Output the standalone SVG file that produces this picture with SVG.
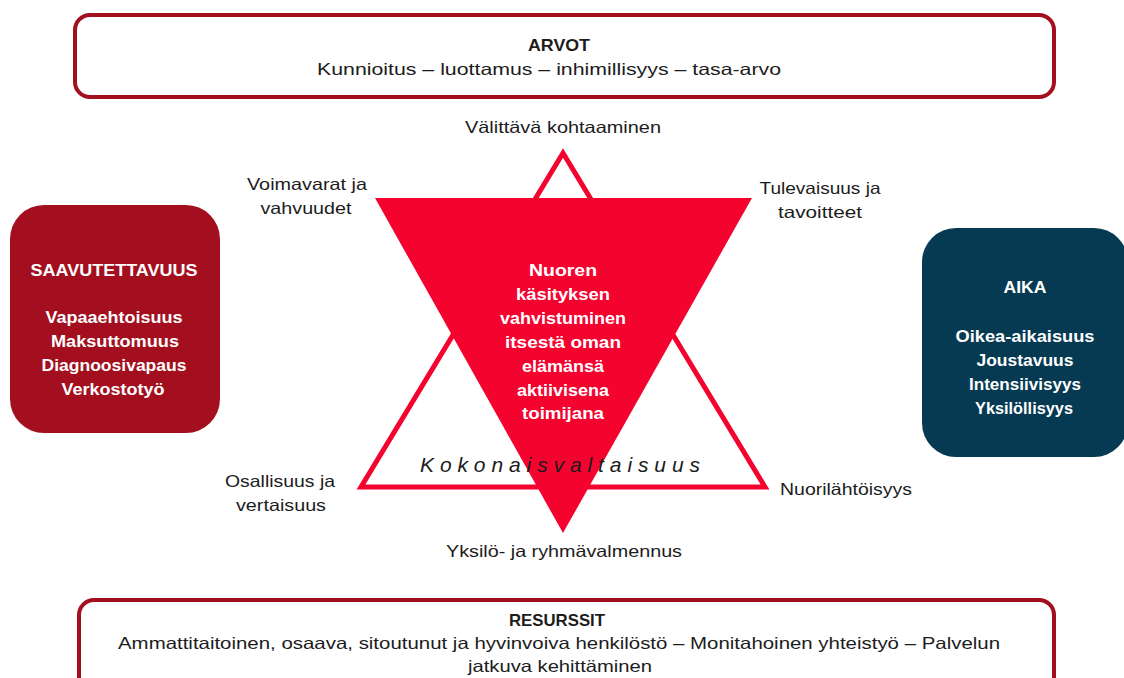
<svg xmlns="http://www.w3.org/2000/svg" width="1124" height="678" viewBox="0 0 1124 678">
<style>
.lbl{font-family:"Liberation Sans",Arial,sans-serif;font-size:16.5px;fill:#1c1c1c;text-anchor:middle}
.hd{font-family:"Liberation Sans",Arial,sans-serif;font-size:16.5px;font-weight:bold;fill:#1c1c1c;text-anchor:middle}
.wb{font-family:"Liberation Sans",Arial,sans-serif;font-size:17px;font-weight:bold;fill:#ffffff;text-anchor:middle}
.frame{fill:#ffffff;stroke:#a30f1e;stroke-width:4}
.big{font-size:21px;font-style:italic}
</style>
<rect width="1124" height="678" fill="#ffffff"/>

<g id="arvot">
<rect class="frame" x="75" y="15" width="979" height="82" rx="15"/>
<text class="hd" x="559" y="51" textLength="62" lengthAdjust="spacingAndGlyphs">ARVOT</text>
<text class="lbl" x="549" y="75" textLength="464" lengthAdjust="spacingAndGlyphs">Kunnioitus – luottamus – inhimillisyys – tasa-arvo</text>
</g>

<g id="resurssit">
<rect class="frame" x="79" y="600" width="975" height="110" rx="15"/>
<text class="hd" x="557" y="626" textLength="96" lengthAdjust="spacingAndGlyphs">RESURSSIT</text>
<text class="lbl" x="559" y="649" textLength="882" lengthAdjust="spacingAndGlyphs">Ammattitaitoinen, osaava, sitoutunut ja hyvinvoiva henkilöstö – Monitahoinen yhteistyö – Palvelun</text>
<text class="lbl" x="560" y="672" textLength="184" lengthAdjust="spacingAndGlyphs">jatkuva kehittäminen</text>
</g>

<g id="saavutettavuus">
<rect x="10" y="205" width="210" height="228" rx="34" fill="#a30f1e"/>
<text class="wb" x="114" y="276" textLength="167" lengthAdjust="spacingAndGlyphs">SAAVUTETTAVUUS</text>
<text class="wb" x="114" y="323" textLength="137" lengthAdjust="spacingAndGlyphs">Vapaaehtoisuus</text>
<text class="wb" x="115" y="347" textLength="128" lengthAdjust="spacingAndGlyphs">Maksuttomuus</text>
<text class="wb" x="114" y="371" textLength="145" lengthAdjust="spacingAndGlyphs">Diagnoosivapaus</text>
<text class="wb" x="113" y="395" textLength="103" lengthAdjust="spacingAndGlyphs">Verkostotyö</text>
</g>

<g id="aika">
<rect x="922" y="228" width="206" height="229" rx="34" fill="#063a52"/>
<text class="wb" x="1025" y="293" textLength="43" lengthAdjust="spacingAndGlyphs">AIKA</text>
<text class="wb" x="1025" y="342" textLength="139" lengthAdjust="spacingAndGlyphs">Oikea-aikaisuus</text>
<text class="wb" x="1025" y="366" textLength="97" lengthAdjust="spacingAndGlyphs">Joustavuus</text>
<text class="wb" x="1025" y="390" textLength="112" lengthAdjust="spacingAndGlyphs">Intensiivisyys</text>
<text class="wb" x="1024" y="414" textLength="98" lengthAdjust="spacingAndGlyphs">Yksilöllisyys</text>
</g>

<g id="connectors"></g>

<g id="star">
<polygon points="563,153 765,487 361,487" fill="none" stroke="#f4032f" stroke-width="5" stroke-linejoin="miter"/>
<polygon points="375,198 752,198 563,533" fill="#f4032f"/>
</g>

<g id="ydin">
<text class="wb" x="563" y="276" textLength="68" lengthAdjust="spacingAndGlyphs">Nuoren</text>
<text class="wb" x="563" y="300" textLength="94" lengthAdjust="spacingAndGlyphs">käsityksen</text>
<text class="wb" x="563" y="324" textLength="126" lengthAdjust="spacingAndGlyphs">vahvistuminen</text>
<text class="wb" x="563" y="348" textLength="116" lengthAdjust="spacingAndGlyphs">itsestä oman</text>
<text class="wb" x="563" y="372" textLength="82" lengthAdjust="spacingAndGlyphs">elämänsä</text>
<text class="wb" x="563" y="396" textLength="92" lengthAdjust="spacingAndGlyphs">aktiivisena</text>
<text class="wb" x="563" y="419" textLength="82" lengthAdjust="spacingAndGlyphs">toimijana</text>
</g>

<g id="kokonaisvaltaisuus">
<text class="lbl big" x="560" y="472" textLength="280" lengthAdjust="spacing">Kokonaisvaltaisuus</text>
</g>

<g id="valittava">
<text class="lbl" x="563" y="133" textLength="196" lengthAdjust="spacingAndGlyphs">Välittävä kohtaaminen</text>
</g>
<g id="voimavarat">
<text class="lbl" x="307" y="190" textLength="120" lengthAdjust="spacingAndGlyphs">Voimavarat ja</text>
<text class="lbl" x="306" y="214" textLength="91" lengthAdjust="spacingAndGlyphs">vahvuudet</text>
</g>
<g id="tulevaisuus">
<text class="lbl" x="820" y="194" textLength="121" lengthAdjust="spacingAndGlyphs">Tulevaisuus ja</text>
<text class="lbl" x="820" y="218" textLength="84" lengthAdjust="spacingAndGlyphs">tavoitteet</text>
</g>
<g id="osallisuus">
<text class="lbl" x="280" y="487" textLength="110" lengthAdjust="spacingAndGlyphs">Osallisuus ja</text>
<text class="lbl" x="281" y="511" textLength="90" lengthAdjust="spacingAndGlyphs">vertaisuus</text>
</g>
<g id="nuorilahtoisyys">
<text class="lbl" x="846" y="495" textLength="132" lengthAdjust="spacingAndGlyphs">Nuorilähtöisyys</text>
</g>
<g id="valmennus">
<text class="lbl" x="564" y="557" textLength="236" lengthAdjust="spacingAndGlyphs">Yksilö- ja ryhmävalmennus</text>
</g>
</svg>
